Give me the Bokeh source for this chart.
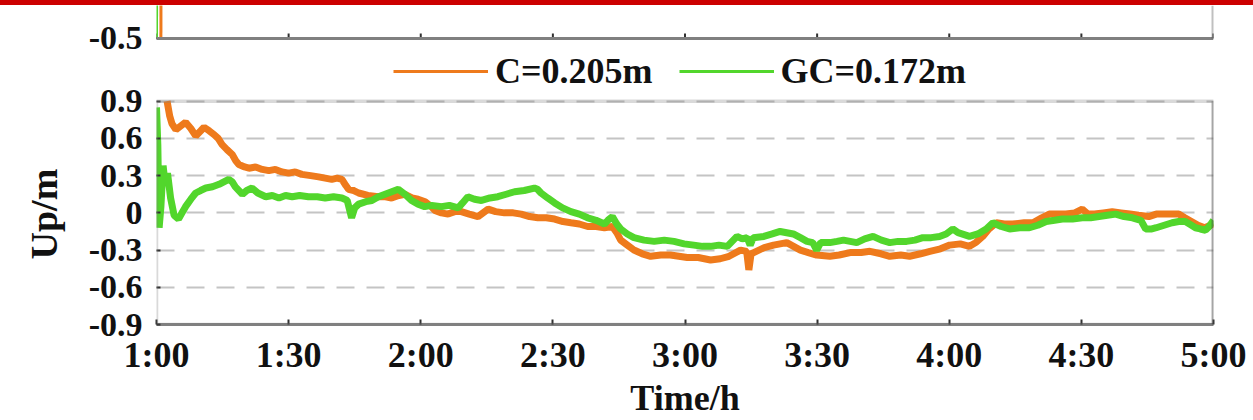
from bokeh.plotting import figure
from bokeh.models import (Range1d, FixedTicker, Legend, LegendItem, Span, Div, BoxAnnotation, Title)
from bokeh.layouts import column
from bokeh.embed import file_html
from bokeh.resources import INLINE

FONT = "Liberation Serif"
ORANGE = "#EE7A1C"
GREEN = "#52D62C"

# ---- data (minutes after 1:00) ----
tick_minutes = [0, 30, 60, 90, 120, 150, 180, 210, 240]
tick_labels = ["1:00", "1:30", "2:00", "2:30", "3:00", "3:30", "4:00", "4:30", "5:00"]
y_ticks = [-0.9, -0.6, -0.3, 0.0, 0.3, 0.6, 0.9]
y_tick_labels = ["-0.9", "-0.6", "-0.3", "0", "0.3", "0.6", "0.9"]

c_time = [2.4, 3.0, 3.5, 4.4, 5.5, 6.6, 7.8, 8.9, 10.0, 10.8, 12.0, 13.1, 14.0, 14.9, 16.0, 17.2,
          18.0, 18.7, 20.0, 21.0, 22.5, 24.0, 25.5, 27.0, 28.5, 30.0, 31.5, 33.0, 35.0, 36.8, 38.3, 39.8,
          41.0, 42.1, 43.0, 43.6, 44.8, 45.9, 48.0, 50.4, 52.0, 53.4, 55.0, 56.4, 58.0, 59.4, 61.0, 62.4,
          63.2, 64.7, 66.2, 67.7, 69.2, 71.0, 73.0, 75.3, 77.0, 79.0, 81.0, 82.8, 84.7, 86.6, 88.5, 90.4,
          92.3, 94.1, 96.0, 97.9, 99.8, 101.7, 103.5, 104.5, 105.4, 106.9, 108.4, 110.3, 112.2, 114.5,
          116.7, 118.6, 120.5, 123.0, 125.8, 128.0, 130.0, 132.6, 134.0, 134.5, 135.0, 135.6, 138.0,
          140.1, 143.1, 146.2, 148.0, 149.9, 152.9, 155.0, 157.5, 160.0, 162.0, 164.5, 166.5, 169.0,
          171.0, 173.5, 175.6, 178.0, 180.1, 182.5, 184.6, 186.0, 187.6, 189.0, 190.7, 192.5, 194.4,
          197.0, 199.0, 201.0, 202.7, 204.5, 206.5, 208.5, 210.2, 211.5, 213.0, 215.0, 217.0, 219.0,
          221.0, 223.0, 225.3, 227.0, 228.3, 230.0, 232.1, 233.5, 235.0, 236.5, 238.0, 240.0]
c_up = [0.90, 0.78, 0.72, 0.67, 0.70, 0.73, 0.68, 0.62, 0.66, 0.69, 0.66, 0.63, 0.60, 0.55, 0.51, 0.47,
        0.42, 0.39, 0.37, 0.36, 0.37, 0.35, 0.34, 0.35, 0.33, 0.32, 0.33, 0.31, 0.30, 0.29, 0.28, 0.27,
        0.28, 0.27, 0.22, 0.19, 0.18, 0.16, 0.14, 0.13, 0.13, 0.12, 0.14, 0.15, 0.12, 0.11, 0.09, 0.05,
        0.02, 0.00, -0.01, 0.01, 0.01, -0.01, -0.03, 0.03, 0.01, 0.00, 0.00, -0.01, -0.03, -0.04, -0.04, -0.05,
        -0.07, -0.08, -0.09, -0.11, -0.11, -0.12, -0.11, -0.16, -0.22, -0.26, -0.30, -0.33, -0.35, -0.34,
        -0.34, -0.35, -0.36, -0.36, -0.38, -0.37, -0.35, -0.30, -0.31, -0.46, -0.33, -0.32, -0.28,
        -0.26, -0.24, -0.30, -0.32, -0.34, -0.35, -0.34, -0.32, -0.32, -0.31, -0.33, -0.35, -0.34,
        -0.35, -0.33, -0.31, -0.29, -0.26, -0.25, -0.27, -0.24, -0.19, -0.13, -0.08, -0.09, -0.09,
        -0.08, -0.08, -0.04, -0.01, -0.01, -0.01, 0.00, 0.03, -0.01, -0.01, 0.00, 0.01, 0.00,
        -0.01, -0.02, -0.03, -0.01, -0.01, -0.01, -0.01, -0.04, -0.07, -0.10, -0.12, -0.09]

gc_time = [0.0, 0.3, 0.6, 1.0, 1.5, 2.0, 2.5, 3.2, 4.0, 5.0, 5.8, 6.6, 7.8, 8.9, 10.0, 11.2, 12.7, 14.2, 15.3,
           16.4, 17.2, 17.9, 19.5, 20.5, 21.7, 23.0, 24.8, 26.3, 27.8, 29.3, 30.8, 32.5, 34.5, 36.5, 38.3,
           40.2, 42.1, 43.3, 44.3, 45.0, 45.9, 47.5, 48.9, 50.4, 51.9, 53.4, 54.9, 56.4, 57.9, 59.4, 60.9,
           62.5, 64.7, 66.5, 68.5, 69.5, 70.7, 72.2, 73.8, 75.7, 77.5, 79.4, 81.3, 83.5, 85.8, 86.5, 87.3,
           88.8, 90.4, 92.2, 94.1, 96.0, 97.9, 99.8, 101.7, 102.5, 103.5, 104.5, 105.4, 106.9, 108.4,
           110.7, 113.0, 115.3, 117.5, 119.8, 122.0, 124.0, 125.8, 127.7, 129.6, 130.7, 131.8, 133.0,
           134.1, 134.8, 135.5, 137.9, 139.8, 141.6, 143.1, 144.6, 146.2, 147.7, 149.0, 149.9, 150.8,
           152.9, 154.5, 156.0, 157.5, 159.0, 160.8, 162.7, 164.6, 166.5, 168.4, 170.3, 172.2, 174.0,
           175.9, 177.8, 179.3, 180.8, 182.0, 184.6, 186.5, 188.4, 189.9, 191.8, 193.7, 196.0, 198.2,
           200.1, 202.0, 203.9, 205.7, 208.0, 210.2, 212.1, 214.0, 215.9, 217.8, 219.7, 221.6, 223.5,
           224.6, 226.0, 227.0, 228.8, 230.6, 232.1, 233.6, 235.0, 235.9, 237.0, 238.2, 239.0, 240.0]
gc_up = [0.85, 0.55, -0.12, 0.05, 0.38, 0.22, 0.32, 0.12, -0.02, -0.05, 0.00, 0.05, 0.11, 0.16, 0.18, 0.20, 0.21, 0.23, 0.25,
         0.27, 0.25, 0.21, 0.15, 0.18, 0.20, 0.16, 0.13, 0.14, 0.12, 0.14, 0.13, 0.14, 0.13, 0.13, 0.12,
         0.13, 0.12, 0.10, -0.04, 0.04, 0.07, 0.09, 0.10, 0.13, 0.15, 0.17, 0.19, 0.15, 0.10, 0.07, 0.05,
         0.06, 0.05, 0.06, 0.04, 0.08, 0.13, 0.11, 0.10, 0.12, 0.13, 0.15, 0.17, 0.18, 0.20, 0.19, 0.16,
         0.12, 0.08, 0.04, 0.01, -0.01, -0.04, -0.06, -0.09, -0.06, -0.03, -0.09, -0.13, -0.17, -0.20,
         -0.22, -0.23, -0.22, -0.23, -0.25, -0.26, -0.27, -0.27, -0.26, -0.27, -0.23, -0.19, -0.21,
         -0.20, -0.26, -0.20, -0.19, -0.17, -0.15, -0.16, -0.17, -0.20, -0.23, -0.24, -0.30, -0.24,
         -0.24, -0.23, -0.22, -0.23, -0.24, -0.21, -0.19, -0.22, -0.24, -0.23, -0.23, -0.22, -0.20,
         -0.20, -0.19, -0.17, -0.13, -0.16, -0.19, -0.17, -0.13, -0.08, -0.11, -0.13, -0.12, -0.12,
         -0.10, -0.07, -0.06, -0.05, -0.05, -0.04, -0.04, -0.03, -0.02, -0.01, -0.03, -0.04, -0.06,
         -0.13, -0.13, -0.12, -0.10, -0.08, -0.07, -0.07, -0.10, -0.12, -0.13, -0.14, -0.11, -0.06]

# visible bottom strip of the upper panel (its own scale)
top_c_time = [1.0, 1.1]
top_c_val = [-0.5, 0.3]
top_gc_time = [0.0, 0.1]
top_gc_val = [-0.5, 0.4]
top_bottom = -0.5
top_label = "-0.5"

# ---- layout constants (pixels) ----
FRAME_H = 320          # frame: from strip top down to main-panel bottom
MAIN_H = 224           # height of the main panel
MAIN_TOP = 96          # main panel top, px below frame top
STRIP_BOTTOM = 33      # strip bottom, px below frame top
STRIP_PX_PER_UNIT = 330.0

unit = (y_ticks[-1] - y_ticks[0]) / MAIN_H
y_top = y_ticks[-1] + MAIN_TOP * unit
strip_in_main = y_ticks[-1] + (MAIN_TOP - STRIP_BOTTOM) * unit
s_end = top_bottom + STRIP_BOTTOM / STRIP_PX_PER_UNIT
s_start = top_bottom - (FRAME_H - STRIP_BOTTOM) / STRIP_PX_PER_UNIT

GRAY = "#808080"
DARK = "#303030"
TXT = "#111111"

p = figure(width=1253, height=FRAME_H + 95, x_range=Range1d(0, 240),
           y_range=Range1d(y_ticks[0], y_top),
           output_backend="svg", toolbar_location=None,
           min_border_top=0, min_border_bottom=95, min_border_left=155, min_border_right=40)
p.extra_y_ranges = {"strip": Range1d(s_start, s_end)}
p.outline_line_color = None
p.xgrid.visible = False
p.ygrid.ticker = FixedTicker(ticks=y_ticks)
p.ygrid.grid_line_color = "#C4C4C4"
p.ygrid.grid_line_width = 2
p.ygrid.grid_line_dash = "18 12"

# main panel frame
p.add_layout(BoxAnnotation(top=y_ticks[-1], fill_alpha=0, line_color=GRAY, line_width=3.5))
p.add_layout(BoxAnnotation(left=tick_minutes[-1], top=y_ticks[-1], fill_alpha=0,
                           line_color=DARK, line_width=4))
# strip frame (bottom and right edges)
p.add_layout(Span(location=top_bottom, dimension="width", y_range_name="strip",
                  line_color=GRAY, line_width=3))
p.add_layout(BoxAnnotation(left=tick_minutes[-1], bottom=top_bottom, y_range_name="strip",
                           fill_alpha=0, line_color=DARK, line_width=4))
p.segment(x0=tick_minutes, y0=[top_bottom] * len(tick_minutes),
          x1=tick_minutes, y1=[top_bottom + 0.015] * len(tick_minutes),
          y_range_name="strip", line_color=DARK, line_width=2)

# data
p.line(top_c_time, top_c_val, y_range_name="strip", line_color=ORANGE, line_width=3)
p.line(top_gc_time, top_gc_val, y_range_name="strip", line_color=GREEN, line_width=3)
p.line(c_time, c_up, line_color=ORANGE, line_width=7)
p.line(gc_time, gc_up, line_color=GREEN, line_width=7)
# single-point renderers used only for the legend swatches
lc = p.line(c_time[:1], c_up[:1], line_color=ORANGE, line_width=3)
lg = p.line(gc_time[:1], gc_up[:1], line_color=GREEN, line_width=3)

# x axis
xa = p.xaxis[0]
xa.ticker = FixedTicker(ticks=tick_minutes)
xa.major_label_overrides = {m: s for m, s in zip(tick_minutes, tick_labels)}
xa.major_label_text_font_size = "36px"
xa.major_label_standoff = 10
xa.major_tick_in = 5
xa.axis_line_width = 3
xa.axis_label = "Time/h"
xa.axis_label_text_font_size = "36px"
xa.axis_label_standoff = 0

# y axis: tick labels (main panel + strip bottom)
ya = p.yaxis[0]
ya.ticker = FixedTicker(ticks=y_ticks + [strip_in_main])
overrides = {v: s for v, s in zip(y_ticks, y_tick_labels)}
overrides[strip_in_main] = top_label
ya.major_label_overrides = overrides
ya.major_label_text_font_size = "34px"
ya.major_label_standoff = 14
ya.major_tick_in = 4
ya.axis_line_color = None

for ax in (xa, ya):
    ax.major_label_text_font = FONT
    ax.major_label_text_font_style = "bold"
    ax.major_label_text_color = TXT
    ax.axis_label_text_font = FONT
    ax.axis_label_text_font_style = "bold"
    ax.axis_label_text_color = TXT
    ax.major_tick_out = 0
    ax.minor_tick_line_color = None
    ax.major_tick_line_color = DARK
    ax.major_tick_line_width = 2
xa.axis_line_color = GRAY

# y title, placed along the main panel
ytitle = Title(text="Up/m", align="left", vertical_align="bottom", offset=65, standoff=41,
               text_font=FONT, text_font_style="bold", text_font_size="38px", text_color=TXT)
p.add_layout(ytitle, "left")

legend = Legend(items=[LegendItem(label="C=0.205m", renderers=[lc]),
                       LegendItem(label="GC=0.172m", renderers=[lg])],
                location=(237, 232), orientation="horizontal",
                border_line_color=None, background_fill_alpha=0,
                padding=0, margin=0, spacing=26, glyph_width=95, glyph_height=20,
                label_standoff=7, label_text_font=FONT, label_text_font_style="bold",
                label_text_font_size="36px", label_text_color=TXT)
p.add_layout(legend)

red = Div(text="", width=1253, height=5, margin=0, styles={"background-color": "#CC0000"})
layout = column(red, p, spacing=0)

open("out.html", "w").write(file_html(layout, INLINE))
